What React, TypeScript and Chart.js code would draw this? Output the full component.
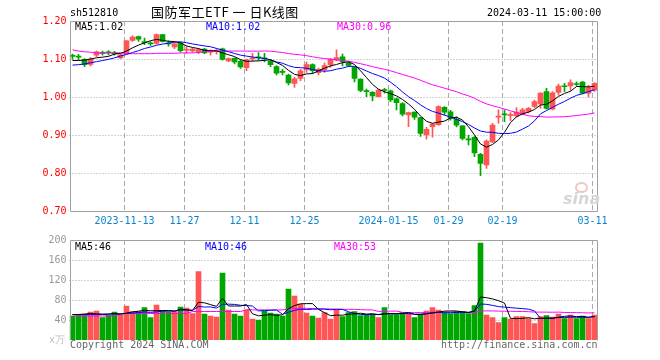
import React, { useEffect, useRef } from 'react';
import { Chart, registerables } from 'chart.js';

Chart.register(...registerables);

// ---------- data ----------
const dates = [
  '2023-10-31', '2023-11-01', '2023-11-02', '2023-11-03', '2023-11-06', '2023-11-07', '2023-11-08', '2023-11-09', '2023-11-10',
  '2023-11-13', '2023-11-14', '2023-11-15', '2023-11-16', '2023-11-17', '2023-11-20', '2023-11-21', '2023-11-22', '2023-11-23', '2023-11-24',
  '2023-11-27', '2023-11-28', '2023-11-29', '2023-11-30', '2023-12-01', '2023-12-04', '2023-12-05', '2023-12-06', '2023-12-07', '2023-12-08',
  '2023-12-11', '2023-12-12', '2023-12-13', '2023-12-14', '2023-12-15', '2023-12-18', '2023-12-19', '2023-12-20', '2023-12-21', '2023-12-22',
  '2023-12-25', '2023-12-26', '2023-12-27', '2023-12-28', '2023-12-29', '2024-01-02', '2024-01-03', '2024-01-04', '2024-01-05',
  '2024-01-08', '2024-01-09', '2024-01-10', '2024-01-11', '2024-01-12', '2024-01-15', '2024-01-16', '2024-01-17', '2024-01-18', '2024-01-19',
  '2024-01-22', '2024-01-23', '2024-01-24', '2024-01-25', '2024-01-26', '2024-01-29', '2024-01-30', '2024-01-31', '2024-02-01', '2024-02-02',
  '2024-02-05', '2024-02-06', '2024-02-07', '2024-02-08', '2024-02-19', '2024-02-20', '2024-02-21', '2024-02-22', '2024-02-23',
  '2024-02-26', '2024-02-27', '2024-02-28', '2024-02-29', '2024-03-01', '2024-03-04', '2024-03-05', '2024-03-06', '2024-03-07', '2024-03-08',
  '2024-03-11',
];

const opens = [
  1.108, 1.106, 1.099, 1.086, 1.110, 1.116, 1.117, 1.115, 1.103, 1.116,
  1.149, 1.159, 1.145, 1.141, 1.141, 1.164, 1.141, 1.132, 1.142, 1.123,
  1.121, 1.119, 1.126, 1.118, 1.120, 1.127, 1.095, 1.102, 1.094, 1.077,
  1.100, 1.104, 1.103, 1.094, 1.080, 1.066, 1.058, 1.036, 1.049, 1.072,
  1.085, 1.064, 1.071, 1.085, 1.097, 1.106, 1.089, 1.078, 1.047, 1.015,
  1.012, 1.001, 1.018, 1.016, 0.995, 0.983, 0.953, 0.960, 0.946, 0.900,
  0.922, 0.927, 0.973, 0.961, 0.941, 0.924, 0.888, 0.894, 0.849, 0.821,
  0.882, 0.947, 0.954, 0.951, 0.950, 0.955, 0.962, 0.975, 0.982, 1.014,
  0.968, 1.012, 1.028, 1.029, 1.034, 1.039, 1.010, 1.018,
];
const highs = [
  1.113, 1.112, 1.101, 1.104, 1.121, 1.121, 1.122, 1.120, 1.113, 1.149,
  1.161, 1.160, 1.155, 1.146, 1.166, 1.165, 1.148, 1.142, 1.144, 1.132,
  1.129, 1.128, 1.128, 1.124, 1.127, 1.129, 1.103, 1.103, 1.098, 1.100,
  1.115, 1.117, 1.115, 1.097, 1.083, 1.073, 1.060, 1.052, 1.073, 1.092,
  1.087, 1.076, 1.090, 1.102, 1.124, 1.113, 1.093, 1.080, 1.048, 1.021,
  1.014, 1.021, 1.023, 1.018, 0.997, 0.985, 0.960, 0.961, 0.947, 0.920,
  0.930, 0.977, 0.975, 0.965, 0.948, 0.925, 0.900, 0.896, 0.852, 0.887,
  0.931, 0.966, 0.966, 0.959, 0.972, 0.970, 0.972, 0.992, 1.011, 1.023,
  1.014, 1.034, 1.036, 1.045, 1.040, 1.041, 1.031, 1.038,
];
const lows = [
  1.099, 1.098, 1.080, 1.082, 1.106, 1.110, 1.111, 1.110, 1.101, 1.114,
  1.146, 1.146, 1.138, 1.136, 1.139, 1.144, 1.134, 1.127, 1.118, 1.115,
  1.118, 1.114, 1.114, 1.110, 1.113, 1.097, 1.093, 1.087, 1.075, 1.069,
  1.094, 1.097, 1.092, 1.080, 1.058, 1.058, 1.032, 1.025, 1.043, 1.065,
  1.062, 1.058, 1.065, 1.078, 1.095, 1.082, 1.080, 1.040, 1.014, 1.001,
  0.990, 1.000, 1.010, 0.988, 0.966, 0.950, 0.922, 0.941, 0.896, 0.889,
  0.894, 0.925, 0.953, 0.939, 0.921, 0.887, 0.874, 0.843, 0.793, 0.812,
  0.880, 0.931, 0.935, 0.938, 0.947, 0.953, 0.958, 0.972, 0.970, 0.968,
  0.966, 1.005, 1.014, 1.017, 1.030, 1.008, 1.000, 1.015,
];
const closes = [
  1.107, 1.105, 1.085, 1.100, 1.119, 1.115, 1.116, 1.114, 1.111, 1.148,
  1.158, 1.152, 1.143, 1.140, 1.164, 1.146, 1.140, 1.140, 1.122, 1.124,
  1.126, 1.125, 1.116, 1.119, 1.121, 1.099, 1.101, 1.092, 1.079, 1.098,
  1.103, 1.103, 1.100, 1.085, 1.063, 1.065, 1.037, 1.048, 1.069, 1.085,
  1.069, 1.073, 1.083, 1.099, 1.104, 1.093, 1.083, 1.049, 1.017, 1.014,
  1.003, 1.018, 1.017, 0.992, 0.985, 0.955, 0.959, 0.947, 0.904, 0.915,
  0.929, 0.975, 0.960, 0.944, 0.926, 0.891, 0.887, 0.853, 0.825, 0.884,
  0.926, 0.948, 0.953, 0.952, 0.960, 0.966, 0.970, 0.988, 1.010, 0.970,
  1.011, 1.029, 1.027, 1.038, 1.033, 1.010, 1.025, 1.036,
];
// volume in 万手
const volumes = [
  48, 50, 50, 56, 58, 45, 50, 56, 50, 68,
  57, 57, 65, 45, 70, 58, 57, 57, 66, 64,
  53, 137, 52, 48, 46, 134, 60, 52, 48, 60,
  42, 40, 58, 54, 52, 48, 102, 88, 72, 54,
  48, 44, 55, 42, 60, 47, 55, 57, 49, 51,
  51, 45, 65, 51, 51, 55, 53, 45, 51, 58,
  65, 60, 55, 53, 57, 57, 53, 69, 194, 50,
  45, 35, 45, 42, 47, 47, 43, 33, 47, 49,
  46, 52, 43, 50, 43, 48, 43, 50,
];

// moving-average values at the start of the window (history not shown)
const ma5Lead = [1.096, 1.096, 1.097, 1.1];
const ma10Lead = [1.084, 1.085, 1.087, 1.09, 1.093, 1.096, 1.099, 1.103, 1.108];
const ma30Lead = [
  1.124, 1.121, 1.119, 1.118, 1.116, 1.116, 1.116, 1.116, 1.116, 1.114,
  1.114, 1.114, 1.114, 1.114, 1.115, 1.115, 1.115, 1.115, 1.116, 1.116,
  1.116, 1.117, 1.119, 1.12, 1.121, 1.121, 1.121, 1.121, 1.121,
];
const volMa5Lead = [51, 51, 52, 53];
const volMa10Lead = [51, 51, 51, 51, 51, 51, 52, 52, 52];
const volMa30Lead = [
  48, 48, 48, 48, 48, 48, 48, 48, 53, 53,
  53, 53, 53, 53, 53, 53, 53, 53, 53, 53,
  57, 57, 57, 57, 57, 57, 57, 57, 57,
];

const tickDates = ['2023-11-13', '2023-11-27', '2023-12-11', '2023-12-25', '2024-01-15', '2024-01-29', '2024-02-19', '2024-03-11'];
const tickLabels = ['2023-11-13', '11-27', '12-11', '12-25', '2024-01-15', '01-29', '02-19', '03-11'];
const priceTicks = [0.7, 0.8, 0.9, 1.0, 1.1, 1.2];
const volumeTicks = [0, 40, 80, 120, 160, 200];

// ---------- helpers ----------
const RED = '#ff5555';
const GREEN = '#00a600';
const MONO = "'DejaVu Sans Mono', monospace";

function movingAverage(values: number[], n: number, lead: number[]): number[] {
  return values.map((_, i) => {
    if (i < n - 1) return lead[i];
    let s = 0;
    for (let k = i - n + 1; k <= i; k++) s += values[k];
    return s / n;
  });
}

const candleColors = closes.map((c, i) => (c > opens[i] ? RED : GREEN));
const tickIdx = tickDates.map((d) => dates.indexOf(d));

function makeGridPlugin(id: string, hTicks: number[], drawBottom: boolean) {
  return {
    id,
    beforeDatasetsDraw(chart: any) {
      const { ctx, chartArea, scales } = chart;
      const x = scales.x;
      const y = scales.y;
      ctx.save();
      ctx.lineWidth = 1;
      ctx.strokeStyle = '#a8a8a8';
      ctx.setLineDash([1, 2]);
      hTicks.slice(1, -1).forEach((t) => {
        const py = Math.round(y.getPixelForValue(t)) + 0.5;
        ctx.beginPath();
        ctx.moveTo(chartArea.left, py);
        ctx.lineTo(chartArea.right, py);
        ctx.stroke();
      });
      ctx.setLineDash([5, 3]);
      ctx.strokeStyle = '#aaaaaa';
      tickIdx.forEach((idx) => {
        const half = (x.getPixelForValue(1) - x.getPixelForValue(0)) / 2;
        const px = Math.round(x.getPixelForValue(idx) - half + 0.5) + 0.5;
        ctx.beginPath();
        ctx.moveTo(px, chartArea.top);
        ctx.lineTo(px, chartArea.bottom);
        ctx.stroke();
      });
      ctx.restore();
    },
    afterDatasetsDraw(chart: any) {
      const { ctx, chartArea } = chart;
      const lx = Math.round(chartArea.left) + 0.5;
      const rx = Math.round(chartArea.right) - 0.5;
      const ty = Math.round(chartArea.top) + 0.5;
      const by = Math.round(chartArea.bottom) + 0.5;
      ctx.save();
      ctx.setLineDash([]);
      ctx.lineWidth = 1;
      ctx.strokeStyle = '#a0a0a0';
      ctx.beginPath();
      ctx.moveTo(lx, by);
      ctx.lineTo(lx, ty);
      ctx.lineTo(rx, ty);
      ctx.lineTo(rx, by);
      if (drawBottom) ctx.lineTo(lx, by);
      ctx.stroke();
      ctx.restore();
    },
  };
}

function lineDs(data: number[], color: string) {
  return {
    type: 'line' as const,
    data,
    borderColor: color,
    borderWidth: 1,
    pointRadius: 0,
    tension: 0,
    fill: false,
    order: 0,
  };
}

function xAxis(showLabels: boolean, height: number) {
  return {
    type: 'category' as const,
    offset: true,
    grid: { display: false, drawTicks: false },
    border: { display: false },
    ticks: {
      display: showLabels,
      autoSkip: false,
      maxRotation: 0,
      minRotation: 0,
      padding: 4,
      labelOffset: -2,
      color: '#0a84d0',
      font: { family: MONO, size: 10 },
      callback: (_v: any, index: number) => {
        const k = tickIdx.indexOf(index);
        return k >= 0 ? tickLabels[k] : '';
      },
    },
    afterFit: (scale: any) => {
      scale.height = height;
    },
  };
}

export default function App() {
  const priceRef = useRef<HTMLCanvasElement>(null);
  const volRef = useRef<HTMLCanvasElement>(null);

  useEffect(() => {
    document.body.style.margin = '0';
    const ma5 = movingAverage(closes, 5, ma5Lead);
    const ma10 = movingAverage(closes, 10, ma10Lead);
    const ma30 = movingAverage(closes, 30, ma30Lead);
    const vma5 = movingAverage(volumes, 5, volMa5Lead);
    const vma10 = movingAverage(volumes, 10, volMa10Lead);
    const vma30 = movingAverage(volumes, 30, volMa30Lead);

    const priceChart = new Chart(priceRef.current as HTMLCanvasElement, {
      type: 'bar',
      data: {
        labels: dates,
        datasets: [
          lineDs(ma5, '#000000'),
          lineDs(ma10, '#0000ff'),
          lineDs(ma30, '#ff00ff'),
          {
            type: 'bar',
            data: lows.map((l, i) => [l, highs[i]]),
            backgroundColor: candleColors,
            barThickness: 1,
            grouped: false,
            borderWidth: 0,
            order: 2,
          },
          {
            type: 'bar',
            data: opens.map((o, i) => [Math.min(o, closes[i]), Math.max(o, closes[i])]),
            backgroundColor: candleColors,
            barThickness: 5,
            minBarLength: 1,
            grouped: false,
            borderWidth: 0,
            order: 1,
          },
        ] as any,
      },
      options: {
        responsive: false,
        animation: false,
        events: [],
        layout: { padding: { left: 0, right: 62.5, top: 21, bottom: 129 } },
        plugins: { legend: { display: false }, tooltip: { enabled: false } },
        scales: {
          x: xAxis(true, 20) as any,
          y: {
            type: 'linear',
            min: 0.7,
            max: 1.2,
            grid: { display: false, drawTicks: false },
            border: { display: false },
            afterBuildTicks: (scale: any) => {
              scale.ticks = priceTicks.map((v) => ({ value: v }));
            },
            afterFit: (scale: any) => {
              scale.width = 69.5;
            },
            ticks: {
              padding: 3,
              color: '#ff0000',
              font: { family: MONO, size: 10 },
              callback: (v: any) => Number(v).toFixed(2),
            },
          } as any,
        },
      },
      plugins: [makeGridPlugin('priceGrid', priceTicks, true)],
    });

    const volChart = new Chart(volRef.current as HTMLCanvasElement, {
      type: 'bar',
      data: {
        labels: dates,
        datasets: [
          lineDs(vma5, '#000000'),
          lineDs(vma10, '#0000ff'),
          lineDs(vma30, '#ff00ff'),
          {
            type: 'bar',
            data: volumes,
            backgroundColor: candleColors,
            barThickness: 5,
            grouped: false,
            borderWidth: 0,
            order: 1,
          },
        ] as any,
      },
      options: {
        responsive: false,
        animation: false,
        events: [],
        layout: { padding: { left: 0, right: 62.5, top: 240, bottom: 20 } },
        plugins: { legend: { display: false }, tooltip: { enabled: false } },
        scales: {
          x: xAxis(false, 0) as any,
          y: {
            type: 'linear',
            min: 0,
            max: 200,
            grid: { display: false, drawTicks: false },
            border: { display: false },
            afterBuildTicks: (scale: any) => {
              scale.ticks = volumeTicks.map((v) => ({ value: v }));
            },
            afterFit: (scale: any) => {
              scale.width = 69.5;
            },
            ticks: {
              padding: 3,
              color: '#999999',
              font: { family: MONO, size: 10 },
              callback: (v: any) => (Number(v) === 0 ? '' : String(v)),
            },
          } as any,
        },
      },
      plugins: [makeGridPlugin('volGrid', volumeTicks, false)],
    });

    return () => {
      priceChart.destroy();
      volChart.destroy();
    };
  }, []);

  const txt = (left: number, top: number, color: string, extra: React.CSSProperties = {}): React.CSSProperties => ({
    position: 'absolute',
    left,
    top,
    color,
    fontFamily: MONO,
    fontSize: 10,
    lineHeight: '12px',
    whiteSpace: 'nowrap',
    ...extra,
  });

  return (
    <div style={{ position: 'relative', width: 660, height: 360, background: '#ffffff', overflow: 'hidden' }}>
      <canvas ref={priceRef} width={660} height={360} style={{ position: 'absolute', left: 0, top: 0 }} />
      <canvas ref={volRef} width={660} height={360} style={{ position: 'absolute', left: 0, top: 0 }} />

      <div style={txt(70, 7, '#000')}>sh512810</div>
      <div
        style={txt(151, 5, '#000', {
          fontFamily: "'Noto Sans CJK SC', sans-serif",
          fontSize: 13,
          lineHeight: '14px',
          letterSpacing: '0.5px',
        })}
      >
        国防军工ETF 一 日K线图
      </div>
      <div style={txt(487, 7, '#000')}>2024-03-11 15:00:00</div>

      <div style={txt(75, 20.5, '#000')}>MA5:1.02</div>
      <div style={txt(206, 20.5, '#0000ff')}>MA10:1.02</div>
      <div style={txt(337, 20.5, '#ff00ff')}>MA30:0.96</div>

      <div style={txt(75, 240.5, '#000')}>MA5:46</div>
      <div style={txt(205, 240.5, '#0000ff')}>MA10:46</div>
      <div style={txt(334, 240.5, '#ff00ff')}>MA30:53</div>

      <div style={txt(49, 334, '#c0c0c0')}>x万</div>
      <div style={txt(70, 339, '#666666')}>Copyright 2024 SINA.COM</div>
      <div style={txt(441, 339, '#666666')}>http://finance.sina.com.cn</div>

      <div
        style={{
          position: 'absolute',
          left: 575,
          top: 182,
          width: 9,
          height: 7,
          borderRadius: '50%',
          border: '2px solid #f2c4c4',
        }}
      />
      <div
        style={txt(563, 191, '#d6d6d6', {
          fontFamily: "'DejaVu Sans', sans-serif",
          fontSize: 16,
          fontWeight: 'bold',
          fontStyle: 'italic',
          lineHeight: '16px',
        })}
      >
        sina
      </div>
    </div>
  );
}
